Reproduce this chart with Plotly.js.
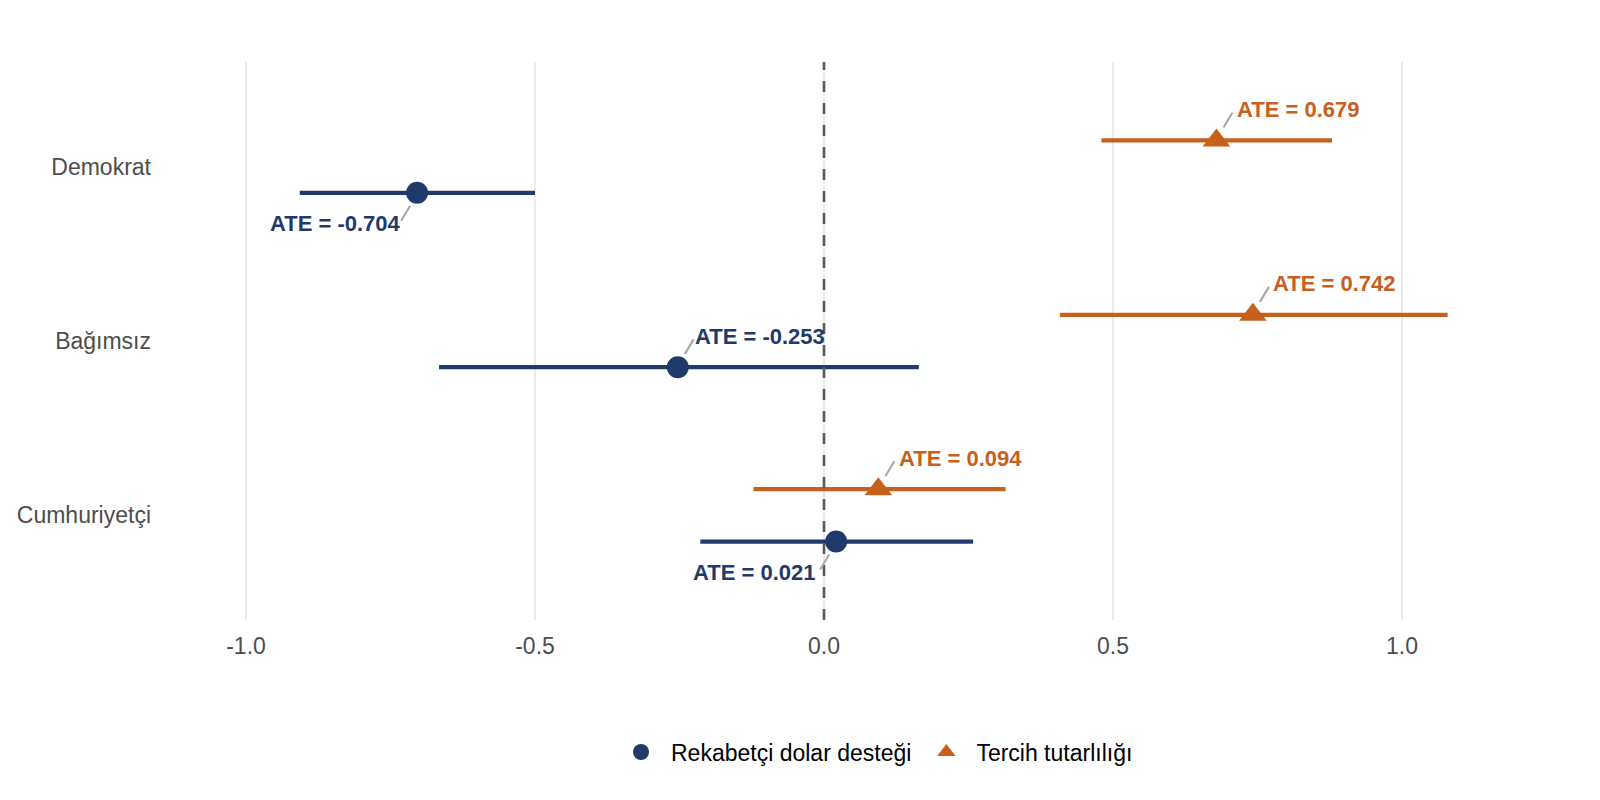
<!DOCTYPE html>
<html>
<head>
<meta charset="utf-8">
<script src="https://cdn.plot.ly/plotly-3.0.1.min.js"></script>
<style>html,body{margin:0;padding:0;background:#fff;}#chart{width:1600px;height:800px;}</style>
</head>
<body>
<div id="chart"></div>
<script>
// ---- data ----
var groups = ['Cumhuriyetçi', 'Bağımsız', 'Demokrat'];
var seriesNames = ['Rekabetçi dolar desteği', 'Tercih tutarlılığı'];
// Rekabetçi dolar desteği (blue)
var blueATE = [0.021, -0.253, -0.704];
var blueLow = [-0.214, -0.666, -0.907];
var blueHigh = [0.258, 0.164, -0.500];
// Tercih tutarlılığı (orange)
var orangeATE = [0.094, 0.742, 0.679];
var orangeLow = [-0.122, 0.408, 0.480];
var orangeHigh = [0.314, 1.079, 0.879];
var xTickVals = [-1, -0.5, 0, 0.5, 1];
var xTickText = ['-1.0', '-0.5', '0.0', '0.5', '1.0'];

// ---- style ----
var BLUE = '#1f3b6c';
var ORANGE = '#c8601d';
var FONT = 'Liberation Sans, Arial, Helvetica, sans-serif';
var DODGE = 0.15;
// label placement direction (+1 = up-right, -1 = down-left), as in the repelled labels
var blueLabelSide = [-1, 1, -1];
var orangeLabelSide = [1, 1, 1];

var pos = groups.map(function (g, i) { return i + 1; });
var yBlue = pos.map(function (p) { return p - DODGE; });
var yOrange = pos.map(function (p) { return p + DODGE; });

function plus(a, b) { return a.map(function (v, i) { return b[i] - v; }); }
function minus(a, b) { return a.map(function (v, i) { return v - b[i]; }); }

var traces = [
  {
    type: 'scatter', mode: 'markers', name: seriesNames[0],
    x: blueATE, y: yBlue,
    marker: { symbol: 'circle', size: 22, color: BLUE },
    error_x: { type: 'data', symmetric: false, array: plus(blueATE, blueHigh), arrayminus: minus(blueATE, blueLow), color: BLUE, thickness: 4.3, width: 0 },
    hoverinfo: 'x'
  },
  {
    type: 'scatter', mode: 'markers', name: seriesNames[1],
    x: orangeATE, y: yOrange,
    marker: { symbol: 'triangle-up', size: 24, color: ORANGE },
    error_x: { type: 'data', symmetric: false, array: plus(orangeATE, orangeHigh), arrayminus: minus(orangeATE, orangeLow), color: ORANGE, thickness: 4.3, width: 0 },
    hoverinfo: 'x'
  }
];

var annotations = [];
var shapes = [];

// zero reference line
shapes.push({ type: 'line', xref: 'x', yref: 'paper', x0: 0, x1: 0, y0: 0, y1: 1,
  line: { color: '#595959', width: 2.6, dash: '11px,11px' }, layer: 'above' });

function addLabels(ate, ys, color, sides) {
  ate.forEach(function (v, i) {
    var s = sides[i];
    annotations.push({
      x: v, y: ys[i], xref: 'x', yref: 'y',
      text: '<b>ATE = ' + v.toFixed(3) + '</b>',
      showarrow: false,
      xshift: 82 * s, yshift: 31 * s,
      font: { family: FONT, size: 22, color: color }
    });
    shapes.push({
      type: 'line', xref: 'x', yref: 'y',
      xsizemode: 'pixel', ysizemode: 'pixel',
      xanchor: v, yanchor: ys[i],
      x0: 7 * s, x1: 16 * s, y0: 13 * s, y1: 28 * s,
      line: { color: '#ababab', width: 2.2 }
    });
  });
}
addLabels(blueATE, yBlue, BLUE, blueLabelSide);
addLabels(orangeATE, yOrange, ORANGE, orangeLabelSide);

var layout = {
  width: 1600, height: 800,
  margin: { l: 164, r: 15, t: 62, b: 180 },
  paper_bgcolor: '#ffffff', plot_bgcolor: '#ffffff',
  font: { family: FONT },
  showlegend: true,
  legend: {
    orientation: 'h', x: 0.5, xanchor: 'center', y: -0.2366, yanchor: 'middle',
    itemwidth: 50,
    font: { family: FONT, size: 23, color: '#000000' }
  },
  xaxis: {
    range: [(164 - 824) / 578, (1585 - 824) / 578],
    tickmode: 'array', tickvals: xTickVals, ticktext: xTickText,
    showgrid: true, gridcolor: '#ebebeb', gridwidth: 2.6,
    zeroline: false, showline: false, ticks: '',
    ticklabelstandoff: 10,
    tickfont: { family: FONT, size: 23, color: '#4d4d4d' }
  },
  yaxis: {
    range: [0.4, 3.6],
    tickmode: 'array', tickvals: pos, ticktext: groups,
    showgrid: false, zeroline: false, showline: false, ticks: '',
    ticklabelstandoff: 12,
    tickfont: { family: FONT, size: 23, color: '#4d4d4d' }
  },
  annotations: annotations,
  shapes: shapes
};

Plotly.newPlot('chart', traces, layout, { displayModeBar: false, staticPlot: true });
</script>
</body>
</html>
